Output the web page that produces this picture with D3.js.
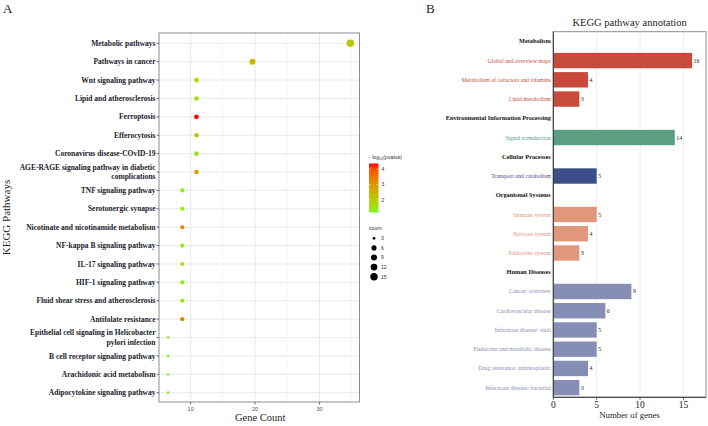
<!DOCTYPE html>
<html>
<head>
<meta charset="utf-8">
<script src="https://cdn.jsdelivr.net/npm/d3@7"></script>
<style>
  html, body { margin: 0; padding: 0; background: #fff; }
  svg { display: block; }
</style>
</head>
<body>
<svg id="chart" width="708" height="426"></svg>
<script>
// --- Panel A data (enrichment bubble plot) ---
const pathways = [
  "Metabolic pathways", "Pathways in cancer", "Wnt signaling pathway",
  "Lipid and atherosclerosis", "Ferroptosis", "Efferocytosis",
  "Coronavirus disease-COvID-19", "AGE-RAGE signaling pathway in diabetic\ncomplications",
  "TNF signaling pathway", "Serotonergic synapse", "Nicotinate and nicotinamide metabolism",
  "NF-kappa B signaling pathway", "IL-17 signaling pathway", "HIF-1 signaling pathway",
  "Fluid shear stress and atherosclerosis", "Antifolate resistance",
  "Epithelial cell signaling in Helicobacter\npylori infection", "B cell receptor signaling pathway",
  "Arachidonic acid metabolism", "Adipocytokine signaling pathway"
];
const geneCount = [34.8, 19.6, 10.9, 10.9, 10.9, 10.9, 10.9, 10.9, 8.7, 8.7,
                   8.7, 8.7, 8.7, 8.7, 8.7, 8.7, 6.5, 6.5, 6.5, 6.5];
const counts = [16, 9, 5, 5, 5, 5, 5, 5, 4, 4, 4, 4, 4, 4, 4, 4, 3, 3, 3, 3];
const negLogP = [2.15, 2.4, 1.8, 1.55, 4.37, 2.15, 1.55, 2.8, 1.5, 1.5,
                 3.25, 1.5, 1.5, 1.5, 1.5, 3.4, 1.18, 1.18, 1.18, 1.18];
const xTicksA = [10, 20, 30];
const colorTicks = [2, 3, 4];
const sizeBreaks = [3, 6, 9, 12, 15];

// --- Panel B data (KEGG annotation bars) ---
const groups = ["Metabolism", "Environmental Information Processing", "Cellular Processes",
                "Organismal Systems", "Human Diseases"];
const groupColors = ["#c84a3b", "#5a9e84", "#3e4e88", "#e0977b", "#878eb6"];
const terms = [
  "Global and overview maps", "Metabolism of cofactors and vitamins", "Lipid metabolism",
  "Signal transduction", "Transport and catabolism",
  "Immune system", "Nervous system", "Endocrine system",
  "Cancer: overview", "Cardiovascular disease", "Infectious disease: viral",
  "Endocrine and metabolic disease", "Drug resistance: antineoplastic", "Infectious disease: bacterial"
];
const termGroup = [0, 0, 0, 1, 2, 3, 3, 3, 4, 4, 4, 4, 4, 4];
const termGenes = [16, 4, 3, 14, 5, 5, 4, 3, 9, 6, 5, 5, 4, 3];
const xTicksB = [0, 5, 10, 15];

const svg = d3.select("#chart");
const serif = '"Times New Roman", "Liberation Serif", serif';
const sans = 'Arial, "Liberation Sans", sans-serif';

// ================= Panel A =================
const A = { left: 159, right: 359.5, top: 33, bottom: 402 };

svg.append("text").attr("x", 3).attr("y", 13).attr("font-family", serif)
  .attr("font-size", 13).attr("fill", "#222").text("A");

const xA = d3.scaleLinear().domain([5.085, 36.215]).range([A.left, A.right]);
const yA = d3.scalePoint().domain(pathways).range([43.3, 392.7]);
const color = d3.scaleLinear().domain([1.18, 4.37]).range(["#80f41c", "#ff0000"])
  .interpolate(d3.interpolateLab);
const rScale = v => 1.4 + 2.4 * Math.sqrt((v - 3) / 13);

const gA = svg.append("g");
// grid
gA.append("g").selectAll("line").data([15, 25, 35]).join("line")
  .attr("x1", d => xA(d)).attr("x2", d => xA(d)).attr("y1", A.top).attr("y2", A.bottom)
  .attr("stroke", "#f2f2f2").attr("stroke-width", 0.6);
gA.append("g").selectAll("line").data(xTicksA).join("line")
  .attr("x1", d => xA(d)).attr("x2", d => xA(d)).attr("y1", A.top).attr("y2", A.bottom)
  .attr("stroke", "#e6e6e6").attr("stroke-width", 0.9);
gA.append("g").selectAll("line").data(pathways).join("line")
  .attr("x1", A.left).attr("x2", A.right).attr("y1", d => yA(d)).attr("y2", d => yA(d))
  .attr("stroke", "#e6e6e6").attr("stroke-width", 0.9);
gA.append("rect").attr("x", A.left).attr("y", A.top)
  .attr("width", A.right - A.left).attr("height", A.bottom - A.top)
  .attr("fill", "none").attr("stroke", "#8c8c8c").attr("stroke-width", 1);

// ticks + labels
const yAxA = gA.append("g").selectAll("g").data(pathways).join("g")
  .attr("transform", d => `translate(0,${yA(d)})`);
yAxA.append("line").attr("x1", A.left - 2.5).attr("x2", A.left).attr("stroke", "#333").attr("stroke-width", 0.7);
yAxA.each(function(d) {
  const lines = d.split("\n");
  const t = d3.select(this).append("text").attr("text-anchor", "end")
    .attr("font-family", serif).attr("font-weight", "bold").attr("font-size", 7.5).attr("fill", "#1a1a2a");
  lines.forEach((ln, i) => {
    t.append("tspan").attr("x", A.left - 3.5)
      .attr("y", 2.6 + (i - (lines.length - 1) / 2) * 9.3).text(ln);
  });
});
const xAxA = gA.append("g").selectAll("g").data(xTicksA).join("g")
  .attr("transform", d => `translate(${xA(d)},${A.bottom})`);
xAxA.append("line").attr("y1", 0).attr("y2", 2.5).attr("stroke", "#333").attr("stroke-width", 0.7);
xAxA.append("text").attr("y", 8.5).attr("text-anchor", "middle").attr("font-family", sans)
  .attr("font-size", 5.5).attr("fill", "#4d4d4d").text(d => d);

gA.append("text").attr("x", (A.left + A.right) / 2 + 1).attr("y", 421)
  .attr("text-anchor", "middle").attr("font-family", serif).attr("font-size", 10.5)
  .attr("fill", "#222").text("Gene Count");
gA.append("text").attr("transform", `translate(10,${(A.top + A.bottom) / 2}) rotate(-90)`)
  .attr("text-anchor", "middle").attr("font-family", serif).attr("font-size", 11)
  .attr("fill", "#222").text("KEGG Pathways");

// points
gA.append("g").selectAll("circle").data(pathways).join("circle")
  .attr("cx", (d, i) => xA(geneCount[i])).attr("cy", d => yA(d))
  .attr("r", (d, i) => rScale(counts[i])).attr("fill", (d, i) => color(negLogP[i]));

// legend: colour bar
const leg = svg.append("g");
const legTitle = leg.append("text").attr("x", 369).attr("y", 158.5).attr("font-family", sans)
  .attr("font-size", 5.2).attr("fill", "#333");
legTitle.append("tspan").text("- log");
legTitle.append("tspan").attr("font-size", 3.8).attr("dy", 1.2).text("10");
legTitle.append("tspan").attr("dy", -1.2).text("(pvalue)");
const defs = svg.append("defs");
const grad = defs.append("linearGradient").attr("id", "cbar")
  .attr("x1", 0).attr("y1", 1).attr("x2", 0).attr("y2", 0);
d3.range(0, 1.001, 0.1).forEach(t => {
  grad.append("stop").attr("offset", t)
    .attr("stop-color", color(1.18 + t * (4.37 - 1.18)));
});
const cbY = d3.scaleLinear().domain([1.18, 4.37]).range([212.5, 163.5]);
leg.append("rect").attr("x", 369).attr("y", cbY(4.37)).attr("width", 9.5)
  .attr("height", cbY(1.18) - cbY(4.37)).attr("fill", "url(#cbar)");
leg.selectAll(".ctick").data(colorTicks).join("g").attr("class", "ctick")
  .each(function(d) {
    const g = d3.select(this);
    g.append("line").attr("x1", 369).attr("x2", 371).attr("y1", cbY(d)).attr("y2", cbY(d))
      .attr("stroke", "#fff").attr("stroke-width", 0.5);
    g.append("line").attr("x1", 376.5).attr("x2", 378.5).attr("y1", cbY(d)).attr("y2", cbY(d))
      .attr("stroke", "#fff").attr("stroke-width", 0.5);
    g.append("text").attr("x", 381.5).attr("y", cbY(d) + 1.8).attr("font-family", sans)
      .attr("font-size", 5).attr("fill", "#333").text(d);
  });
// legend: size
leg.append("text").attr("x", 369).attr("y", 230).attr("font-family", sans)
  .attr("font-size", 5.2).attr("fill", "#333").text("count");
const sizeY = d3.scalePoint().domain(sizeBreaks).range([238.3, 276.7]);
leg.selectAll(".sz").data(sizeBreaks).join("g").attr("class", "sz")
  .each(function(d) {
    const g = d3.select(this);
    g.append("circle").attr("cx", 374).attr("cy", sizeY(d)).attr("r", rScale(d)).attr("fill", "#000");
    g.append("text").attr("x", 381).attr("y", sizeY(d) + 1.8).attr("font-family", sans)
      .attr("font-size", 5).attr("fill", "#333").text(d);
  });

// ================= Panel B =================
const B = { left: 553.3, right: 706, top: 31.7, bottom: 397.3 };
svg.append("text").attr("x", 426).attr("y", 13).attr("font-family", serif)
  .attr("font-size", 13).attr("fill", "#222").text("B");

const rows = [];
groups.forEach((g, gi) => {
  rows.push({ label: g, header: true, group: gi });
  terms.forEach((t, ti) => {
    if (termGroup[ti] === gi) rows.push({ label: t, header: false, group: gi, value: termGenes[ti] });
  });
});

const xB = d3.scaleLinear().domain([0, 17.6]).range([B.left, B.right]);
const yB = d3.scaleBand().domain(rows.map(r => r.label)).range([B.top, B.bottom])
  .paddingInner(0.2).paddingOuter(0.1);

const gB = svg.append("g");
gB.append("text").attr("x", (B.left + B.right) / 2).attr("y", 26)
  .attr("text-anchor", "middle").attr("font-family", serif).attr("font-size", 10.5)
  .attr("fill", "#222").text("KEGG pathway annotation");

gB.append("g").selectAll("line").data(xTicksB.slice(1)).join("line")
  .attr("x1", d => xB(d)).attr("x2", d => xB(d)).attr("y1", B.top).attr("y2", B.bottom)
  .attr("stroke", "#e8e8e8").attr("stroke-width", 0.8);
gB.append("rect").attr("x", B.left).attr("y", B.top)
  .attr("width", B.right - B.left).attr("height", B.bottom - B.top)
  .attr("fill", "none").attr("stroke", "#8c8c8c").attr("stroke-width", 1);

const bars = rows.filter(r => !r.header);
gB.append("g").selectAll("rect").data(bars).join("rect")
  .attr("x", xB(0)).attr("y", d => yB(d.label))
  .attr("width", d => xB(d.value) - xB(0)).attr("height", yB.bandwidth())
  .attr("fill", d => groupColors[d.group]);
gB.append("g").selectAll("text").data(bars).join("text")
  .attr("x", d => xB(d.value) + 1.5).attr("y", d => yB(d.label) + yB.bandwidth() / 2 + 2)
  .attr("font-family", serif).attr("font-size", 6).attr("fill", "#222").text(d => d.value);

gB.append("g").selectAll("text").data(rows).join("text")
  .attr("x", B.left - 2.5).attr("y", d => yB(d.label) + yB.bandwidth() / 2 + 2)
  .attr("text-anchor", "end").attr("font-family", serif)
  .attr("font-size", d => d.header ? 6.3 : 5.9)
  .attr("font-weight", d => d.header ? "bold" : "normal")
  .attr("fill", d => d.header ? "#111" : groupColors[d.group])
  .text(d => d.label);

// axes lines
gB.append("line").attr("x1", B.left).attr("x2", B.left).attr("y1", B.top).attr("y2", B.bottom)
  .attr("stroke", "#333").attr("stroke-width", 1);
gB.append("line").attr("x1", B.left).attr("x2", B.right).attr("y1", B.bottom).attr("y2", B.bottom)
  .attr("stroke", "#333").attr("stroke-width", 1);
const xAxB = gB.append("g").selectAll("g").data(xTicksB).join("g")
  .attr("transform", d => `translate(${xB(d)},${B.bottom})`);
xAxB.append("line").attr("y1", 0).attr("y2", 2.5).attr("stroke", "#333").attr("stroke-width", 0.8);
xAxB.append("text").attr("y", 11).attr("text-anchor", "middle").attr("font-family", serif)
  .attr("font-size", 9.5).attr("fill", "#222").text(d => d);
gB.append("text").attr("x", 629.5).attr("y", 417.5).attr("text-anchor", "middle")
  .attr("font-family", serif).attr("font-size", 8.8).attr("fill", "#222").text("Number of genes");
</script>
</body>
</html>
